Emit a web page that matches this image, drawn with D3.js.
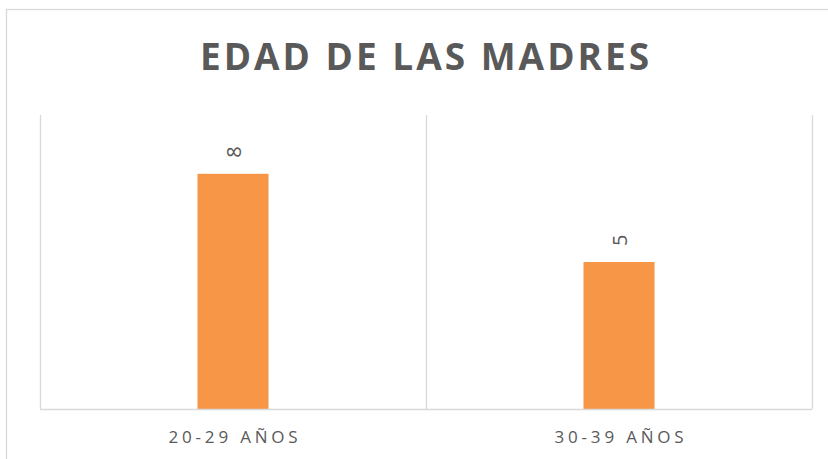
<!DOCTYPE html>
<html>
<head>
<meta charset="utf-8">
<script src="https://cdn.jsdelivr.net/npm/d3@7"></script>
<style>
  body { margin: 0; background: #fff; }
  text { font-family: "Open Sans", sans-serif; }
</style>
</head>
<body>
<svg id="chart"></svg>
<script>
const categories = ['20-29 AÑOS', '30-39 AÑOS'];
const values = [8, 5];
const yTicks = [0, 10];

const config = {
  width: 828,
  height: 459,
  margin: { top: 115, right: 16, bottom: 50, left: 40 }
};

const svg = d3.select('#chart')
  .attr('width', config.width)
  .attr('height', config.height);

// chart frame
svg.append('rect')
  .attr('x', 6.5).attr('y', 9.5)
  .attr('width', 840).attr('height', 470)
  .attr('fill', 'none')
  .attr('stroke', '#d9d9d9')
  .attr('stroke-width', 1.3);

const innerW = config.width - config.margin.left - config.margin.right;
const plotBottom = 409;

const xScale = d3.scaleBand()
  .domain(categories)
  .range([config.margin.left, config.margin.left + innerW]);

const yScale = d3.scaleLinear()
  .domain(d3.extent(yTicks))
  .range([plotBottom, config.margin.top]);

const barW = xScale.bandwidth() * 0.184;

// category separators
const edges = categories.map(c => xScale(c)).concat([xScale.range()[1]]);
svg.selectAll('.sep')
  .data(edges)
  .join('line')
  .attr('class', 'sep')
  .attr('x1', d => Math.round(d) + 0.5).attr('x2', d => Math.round(d) + 0.5)
  .attr('y1', yScale(10)).attr('y2', plotBottom)
  .attr('stroke', '#d9d9d9')
  .attr('stroke-width', 1.3);

// bars
svg.selectAll('.bar')
  .data(values)
  .join('rect')
  .attr('class', 'bar')
  .attr('x', (d, i) => xScale(categories[i]) + xScale.bandwidth() / 2 - barW / 2)
  .attr('width', barW)
  .attr('y', d => yScale(d))
  .attr('height', d => plotBottom - yScale(d))
  .attr('fill', '#f79646');

// baseline
svg.append('line')
  .attr('x1', xScale.range()[0]).attr('x2', xScale.range()[1])
  .attr('y1', plotBottom + 0.5).attr('y2', plotBottom + 0.5)
  .attr('stroke', '#d9d9d9')
  .attr('stroke-width', 1.3);

// value labels, rotated
svg.selectAll('.val')
  .data(values)
  .join('text')
  .attr('class', 'val')
  .attr('transform', (d, i) => {
    const cx = xScale(categories[i]) + xScale.bandwidth() / 2;
    return `translate(${cx + 1},${yScale(d) - 16}) rotate(-90)`;
  })
  .attr('text-anchor', 'start')
  .attr('dy', '0.36em')
  .attr('font-size', 20)
  .attr('fill', '#595959')
  .text(d => d);

// category labels
svg.selectAll('.cat')
  .data(categories)
  .join('text')
  .attr('class', 'cat')
  .attr('x', d => xScale(d) + xScale.bandwidth() / 2 + 2)
  .attr('y', 443)
  .attr('text-anchor', 'middle')
  .attr('font-size', 17)
  .attr('letter-spacing', 3.8)
  .attr('fill', '#595959')
  .text(d => d);

// title
svg.append('text')
  .attr('x', 426)
  .attr('y', 70)
  .attr('text-anchor', 'middle')
  .attr('font-size', 37)
  .attr('font-weight', 'bold')
  .attr('letter-spacing', 3)
  .attr('fill', '#595959')
  .text('EDAD DE LAS MADRES');
</script>
</body>
</html>
